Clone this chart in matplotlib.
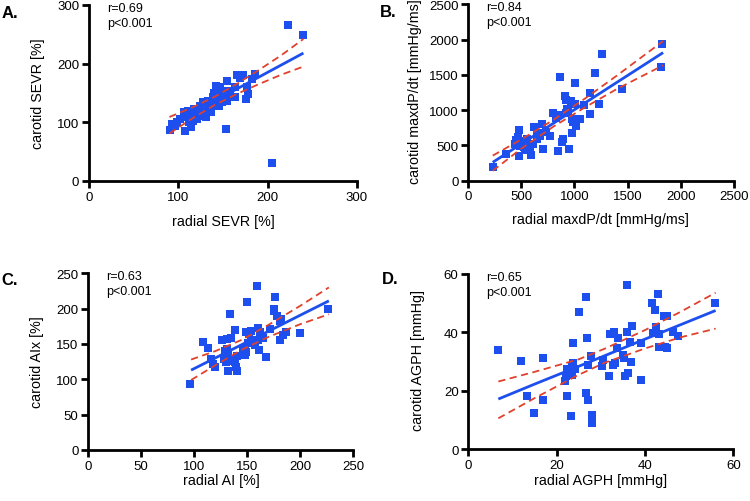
import numpy as np
import matplotlib
matplotlib.use("Agg")
import matplotlib.pyplot as plt

plt.rcParams['font.family'] = ['Liberation Sans', 'DejaVu Sans']

# Panel A : SEVR
a_x = [223, 240, 205, 153, 91, 93, 107, 114, 131, 176, 178, 166, 172, 186, 182, 154, 142, 147, 148, 106,
       102, 111, 115, 117, 119, 121, 124, 116, 127, 133, 136, 137, 139, 143, 145, 149, 150, 152, 146, 139,
       128, 132, 123, 109, 112, 98, 96, 156, 158, 163, 143, 154, 169, 177, 163, 140, 145]
a_y = [266, 248, 30, 89, 87, 97, 85, 92, 109, 139, 149, 181, 181, 182, 174, 170, 162, 160, 153, 117,
       106, 120, 111, 123, 114, 106, 127, 103, 111, 137, 124, 117, 131, 137, 128, 134, 140, 149, 146, 143,
       134, 123, 120, 109, 100, 100, 94, 154, 149, 143, 154, 137, 175, 161, 160, 150, 145]
a_fit_x = [90, 115, 140, 165, 190, 215, 240]
a_fit = [95, 115.5, 136, 156.5, 177, 197.5, 218]
a_hi = [109, 125, 143, 165, 189, 214, 242]
a_lo = [81, 106, 129, 148, 165, 181, 195]

# Panel B : maxdP/dt
b_x = [229, 352, 477, 464, 448, 438, 486, 480, 527, 511, 549, 580, 587, 555, 621, 643, 649, 674, 696, 699,
       731, 768, 800, 825, 847, 841, 862, 878, 894, 913, 919, 919, 925, 941, 950, 972, 978, 975, 988, 1007,
       1004, 1014, 1051, 1089, 1145, 1145, 1192, 1233, 1264, 1443, 1825, 1812, 505, 530, 610, 660]
b_y = [198, 378, 717, 623, 575, 520, 495, 353, 471, 542, 518, 471, 363, 589, 763, 589, 660, 636, 801, 448,
       683, 627, 966, 895, 928, 424, 1463, 542, 589, 1203, 1146, 966, 1013, 990, 448, 1132, 872, 674, 825, 1378,
       1085, 778, 872, 1071, 1236, 948, 1519, 1085, 1792, 1297, 1933, 1604, 560, 430, 520, 670]
b_fit_x = [230, 500, 800, 1100, 1400, 1835]
b_fit = [260, 522, 812, 1103, 1394, 1815]
b_hi = [355, 585, 860, 1165, 1490, 1978]
b_lo = [140, 455, 765, 1040, 1300, 1635]

# Panel C : AIx
c_x = [159, 176, 150, 175, 175, 134, 178, 182, 181, 108, 113, 126, 131, 138, 149, 154, 160, 152, 162, 165,
       171, 187, 200, 184, 181, 168, 116, 118, 120, 131, 129, 132, 128, 137, 140, 132, 130, 132, 138, 139,
       140, 148, 146, 149, 151, 154, 157, 161, 160, 148, 96, 226, 129, 135]
c_y = [232, 217, 209, 200, 197, 192, 190, 186, 183, 153, 144, 155, 157, 170, 167, 169, 173, 164, 167, 159,
       171, 167, 165, 162, 156, 132, 129, 122, 118, 143, 133, 137, 129, 129, 133, 126, 124, 112, 124, 118,
       112, 145, 141, 138, 152, 155, 148, 142, 155, 134, 94, 200, 140, 158]
c_fit_x = [97, 120, 145, 170, 200, 227]
c_fit = [113, 130.3, 149.2, 168, 190.7, 211]
c_hi = [128, 140, 156, 177, 204, 230]
c_lo = [99, 120, 142, 160, 178, 192]

# Panel D : AGPH
d_x = [6.8, 11.9, 17.0, 13.4, 17.0, 14.9, 23.6, 25.0, 26.6, 26.9, 23.2, 22.3, 26.7, 27.0, 27.9, 27.9, 21.9,
       22.1, 22.4, 23.4, 23.8, 24.2, 23.5, 27.2, 27.8, 30.2, 30.6, 32.1, 33.1, 34.0, 32.8, 33.2, 31.9, 33.7,
       35.1, 35.3, 35.5, 36.2, 35.9, 36.0, 36.6, 37.0, 36.8, 39.0, 41.5, 42.3, 42.9, 41.9, 42.6, 43.1, 43.2,
       44.4, 45.0, 44.5, 45.1, 46.4, 47.5, 55.9, 39.0]
d_y = [34.1, 30.1, 31.1, 18.1, 17.0, 12.3, 36.4, 47.1, 52.1, 38.2, 11.3, 18.4, 19.2, 17.0, 11.9, 9.0, 23.5,
       25.2, 27.5, 28.6, 29.4, 27.5, 25.4, 28.8, 31.8, 28.6, 30.7, 39.4, 40.1, 38.1, 28.8, 29.4, 25.2, 34.7,
       32.3, 31.1, 25.2, 26.0, 56.3, 40.1, 36.8, 42.3, 29.8, 23.7, 50.0, 47.7, 53.2, 39.9, 42.0, 39.6, 35.1,
       45.6, 45.6, 35.1, 34.8, 40.3, 38.8, 50.0, 36.3]
d_fit_x = [6.8, 15, 25, 31, 40, 48, 56]
d_fit = [17.2, 22.3, 28.4, 32.1, 37.7, 42.6, 47.5]
d_hi = [23.2, 26.5, 30.8, 34.5, 40.8, 47.0, 53.6]
d_lo = [10.6, 17.5, 25.5, 29.7, 34.5, 38.3, 41.3]

blue = '#1c4fee'
red = '#e0412c'

panels = [
    # letter, rect, x, y, fit, xlabel, ylabel, lim, ticks, r, label pos, letter pos
    ("A.", [0.1187, 0.6375, 0.3573, 0.3506], a_x, a_y, (a_fit_x, a_fit, a_hi, a_lo),
     "radial SEVR [%]", "carotid SEVR [%]", 300, [0, 100, 200, 300], "r=0.69",
     (-0.190, 0.504), (0.501, -0.227), (0.002, 0.973)),
    ("B.", [0.6244, 0.6381, 0.3539, 0.3514], b_x, b_y, (b_fit_x, b_fit, b_hi, b_lo),
     "radial maxdP/dt [mmHg/ms]", "carotid maxdP/dt [mmHg/ms]", 2500, [0, 500, 1000, 1500, 2000, 2500], "r=0.84",
     (-0.201, 0.510), (0.496, -0.217), (0.507, 0.975)),
    ("C.", [0.1177, 0.1016, 0.3533, 0.3520], c_x, c_y, (c_fit_x, c_fit, c_hi, c_lo),
     "radial AI [%]", "carotid AIx [%]", 250, [0, 50, 100, 150, 200, 250], "r=0.63",
     (-0.195, 0.505), (0.503, -0.170), (0.002, 0.442)),
    ("D.", [0.6244, 0.1030, 0.3533, 0.3492], d_x, d_y, (d_fit_x, d_fit, d_hi, d_lo),
     "radial AGPH [mmHg]", "carotid AGPH [mmHg]", 60, [0, 20, 40, 60], "r=0.65",
     (-0.190, 0.515), (0.500, -0.175), (0.509, 0.443)),
]

fig = plt.figure(figsize=(7.5, 5.02), dpi=100)

for letter, rect, x, y, fit, xl, yl, lim, ticks, r, ylpos, xlpos, lpos in panels:
    ax = fig.add_axes(rect)
    fx, fy, hi, lo = fit
    ax.plot(fx, hi, color=red, lw=1.3, dashes=(4, 2.5), zorder=3)
    ax.plot(fx, lo, color=red, lw=1.3, dashes=(4, 2.5), zorder=3)
    ax.scatter(x, y, marker='s', s=26, color=blue, linewidths=0, zorder=2, clip_on=False)
    ax.plot(fx, fy, color=blue, lw=2.0, zorder=4, solid_capstyle='butt')
    ax.set_xlim(0, lim)
    ax.set_ylim(0, lim)
    ax.set_xticks(ticks)
    ax.set_yticks(ticks)
    for s in ['top', 'right']:
        ax.spines[s].set_visible(False)
    for s in ['left', 'bottom']:
        ax.spines[s].set_linewidth(2.0)
    ax.tick_params(direction='out', length=5, width=2.0, labelsize=9.5, pad=2)
    ax.set_xlabel(xl, fontsize=10.3, va='center')
    ax.set_ylabel(yl, fontsize=10.3, va='center')
    ax.yaxis.set_label_coords(*ylpos)
    ax.xaxis.set_label_coords(*xlpos)
    ax.text(0.068, 0.985, r, transform=ax.transAxes, fontsize=9, va='center', ha='left')
    ax.text(0.068, 0.898, "p<0.001", transform=ax.transAxes, fontsize=9, va='center', ha='left')
    fig.text(lpos[0], lpos[1], letter, fontsize=12, fontweight='bold', va='center', ha='left')

plt.savefig("out.png", dpi=100)
